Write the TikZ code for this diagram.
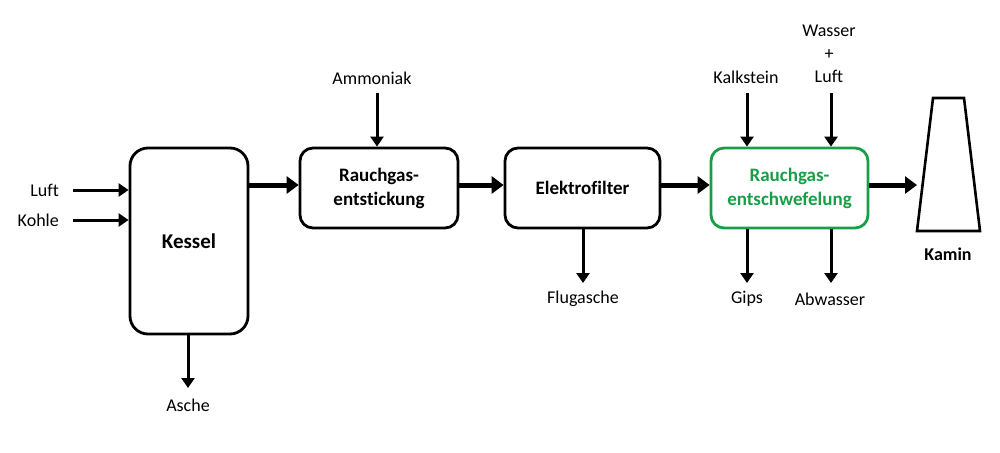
\documentclass[tikz,border=0pt]{standalone}
\usepackage{fontspec}
\setmainfont{Carlito}[Ligatures=CommonOff]
\usetikzlibrary{arrows.meta}
\definecolor{fgdgreen}{RGB}{24,158,72}
\tikzset{
  box/.style={draw, line width=2.8pt, rounded corners=13pt, align=center,
    font=\fontsize{19}{24}\selectfont\bfseries, inner sep=0pt},
  lbl/.style={font=\fontsize{18}{23}\selectfont, inner sep=0pt, align=center},
  thin arrow/.style={line width=3pt, -{Triangle[length=10pt,width=13pt]}},
  thick arrow/.style={line width=5pt, -{Triangle[length=12pt,width=17pt]}},
}
\begin{document}
\begin{tikzpicture}[x=1pt,y=-1pt]
\useasboundingbox (0,0) rectangle (1000,452);
% main boxes
\node[box, rounded corners=18pt, minimum width=118, minimum height=186,
  font=\fontsize{21}{24}\selectfont\bfseries] (kessel) at (189,241) {Kessel};
\node[box, minimum width=158, minimum height=80] (rge) at (379,188) {Rauchgas-\\entstickung};
\node[box, minimum width=155, minimum height=80] (ef) at (582.5,188) {Elektrofilter};
\node[box, draw=fgdgreen, text=fgdgreen, minimum width=157, minimum height=80] (rea) at (789.5,188) {Rauchgas-\\entschwefelung};
% chimney
\draw[line width=2.6pt, line join=miter] (933,98) coordinate (kamin-tl) -- (964,98) -- (980,231) coordinate (kamin-br) -- (917,231) coordinate (kamin-bl) -- cycle;
\coordinate (kamin-in) at (917,185);
\node[lbl, font=\fontsize{18}{23}\selectfont\bfseries] (kamin) at (948,254) {Kamin};
% labels
\node[lbl, anchor=east] (luft) at (59,190) {Luft};
\node[lbl, anchor=east] (kohle) at (59,220) {Kohle};
\node[lbl] (asche) at (188,405) {Asche};
\node[lbl] (ammoniak) at (372,78) {Ammoniak};
\node[lbl] (flugasche) at (583,299) {Flugasche};
\node[lbl] (kalkstein) at (746,77) {Kalkstein};
\node[lbl] (wasser) at (829,54) {Wasser\\+\\Luft};
\node[lbl] (gips) at (747,299) {Gips};
\node[lbl] (abwasser) at (830,299) {Abwasser};
% connector end points
\coordinate (luft-a) at (73,190);
\coordinate (kohle-a) at (73,220);
\coordinate (asche-a) at (188,388);
\coordinate (amm-a) at (377,93);
\coordinate (flug-a) at (583,283);
\coordinate (kalk-a) at (747,93);
\coordinate (wass-a) at (831,93);
\coordinate (gips-a) at (747,283);
\coordinate (abw-a) at (831,283);
% inputs
\draw[thin arrow] (luft-a) -- (luft-a -| kessel.west);
\draw[thin arrow] (kohle-a) -- (kohle-a -| kessel.west);
\draw[thin arrow] (amm-a) -- (amm-a |- rge.north);
\draw[thin arrow] (kalk-a) -- (kalk-a |- rea.north);
\draw[thin arrow] (wass-a) -- (wass-a |- rea.north);
% outputs
\draw[thin arrow] (kessel.south -| asche-a) -- (asche-a);
\draw[thin arrow] (ef.south -| flug-a) -- (flug-a);
\draw[thin arrow] (rea.south -| gips-a) -- (gips-a);
\draw[thin arrow] (rea.south -| abw-a) -- (abw-a);
% main flow
\draw[thick arrow] (kessel.east |- 0,185) -- (rge.west |- 0,185);
\draw[thick arrow] (rge.east |- 0,185) -- (ef.west |- 0,185);
\draw[thick arrow] (ef.east |- 0,185) -- (rea.west |- 0,185);
\draw[thick arrow] (rea.east |- 0,185) -- (kamin-in);
\end{tikzpicture}
\end{document}
